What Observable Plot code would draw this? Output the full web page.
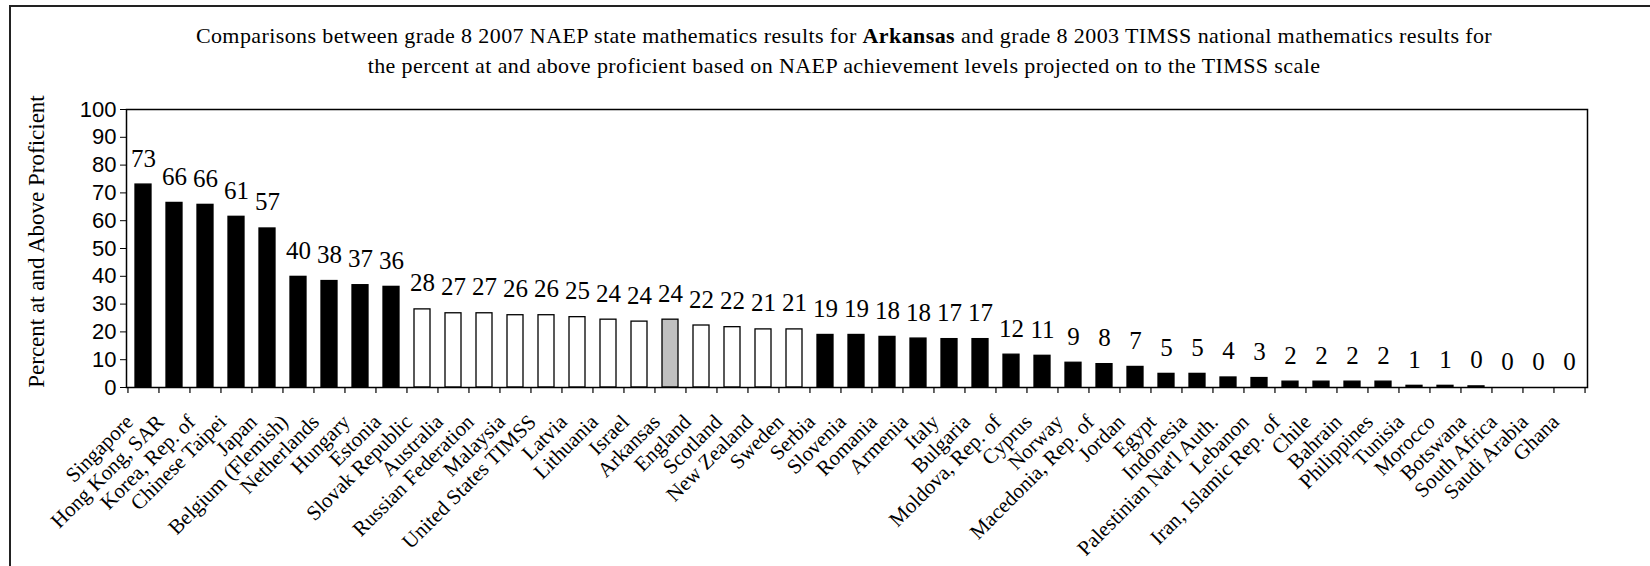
<!DOCTYPE html>
<html><head><meta charset="utf-8">
<script src="https://cdn.jsdelivr.net/npm/d3@7"></script>
<script src="https://cdn.jsdelivr.net/npm/@observablehq/plot@0.6"></script>
<style>
body{margin:0;background:#fff;width:1650px;height:566px;overflow:hidden;position:relative;font-family:"Liberation Serif","Times New Roman",serif;color:#000;}
#frame{position:absolute;left:9px;top:5px;width:1700px;height:600px;border-left:2px solid #222;border-top:2px solid #222;}
#title{position:absolute;left:38px;width:1612px;top:0;text-align:center;font-family:"Liberation Serif","Times New Roman",serif;font-size:22px;letter-spacing:0.4px;line-height:30px;padding-top:21px;}
#chart{position:absolute;left:0;top:80px;}
</style></head><body>
<div id="title">Comparisons between grade 8 2007 NAEP state mathematics results for <b>Arkansas</b> and grade 8 2003 TIMSS national mathematics results for<br>the percent at and above proficient based on NAEP achievement levels projected on to the TIMSS scale</div>
<div id="chart"></div>
<div id="frame"></div>
<script>
const countries = ["Singapore","Hong Kong, SAR","Korea, Rep. of","Chinese Taipei","Japan","Belgium (Flemish)","Netherlands","Hungary","Estonia",
  "Slovak Republic","Australia","Russian Federation","Malaysia","United States TIMSS","Latvia","Lithuania","Israel","Arkansas","England","Scotland","New Zealand","Sweden",
  "Serbia","Slovenia","Romania","Armenia","Italy","Bulgaria","Moldova, Rep. of","Cyprus","Norway","Macedonia, Rep. of","Jordan","Egypt","Indonesia","Palestinian Nat'l Auth.","Lebanon","Iran, Islamic Rep. of","Chile","Bahrain","Philippines","Tunisia","Morocco","Botswana","South Africa","Saudi Arabia","Ghana"];
const values = [73,66.4,65.7,61.4,57.2,39.8,38.3,36.8,36.2,
  28.1,26.7,26.7,26.0,26.0,25.3,24.4,23.7,24.4,22.3,21.7,20.9,20.9,
  18.9,18.9,18.2,17.6,17.4,17.4,11.8,11.4,8.9,8.4,7.4,4.9,4.9,3.6,3.4,2.1,2.1,2.1,2.1,0.6,0.6,0.4,0,0,0];
const groups = ["higher","higher","higher","higher","higher","higher","higher","higher","higher",
  "same","same","same","same","same","same","same","same","state","same","same","same","same",
  "lower","lower","lower","lower","lower","lower","lower","lower","lower","lower","lower","lower","lower","lower","lower","lower","lower","lower","lower","lower","lower","lower","lower","lower","lower"];
const groupFill = {higher:"#000000", same:"#ffffff", state:"#c0c0c0", lower:"#000000"};
const yTicks = [0,10,20,30,40,50,60,70,80,90,100];
const yTitle = "Percent at and Above Proficient";

const data = countries.map((c,i)=>({country:c, value:values[i], group:groups[i], label:d3.format(".0f")(values[i])}));
const W=1650, H=486, ml=126, mr=63, mt=29, mb=179;
const n = countries.length;
const step = (W-ml-mr)/n;
const plotH = H-mt-mb;
const serif = "Liberation Serif, Times New Roman, serif";

const chart = Plot.plot({
  width:W, height:H, marginLeft:ml, marginRight:mr, marginTop:mt, marginBottom:mb,
  style:{background:"transparent", color:"#000", fontFamily:serif},
  x:{domain:countries, paddingInner:0.48, paddingOuter:0.24},
  y:{domain:[0,100]},
  marks:[
    Plot.barY(data,{x:"country", y:"value", fill:d=>groupFill[d.group], stroke:"#000", strokeWidth:1.3}),
    Plot.text(data,{x:"country", y:"value", text:"label", dy:-26, fontSize:25, fontFamily:serif, fill:"#000"}),
    Plot.tickX(countries,{x:d=>d, dx:-step/2, insetTop:plotH, insetBottom:-6, stroke:"#000", strokeWidth:1.2}),
    Plot.tickX([countries[n-1]],{x:d=>d, dx:step/2, insetTop:plotH, insetBottom:-6, stroke:"#000", strokeWidth:1.2}),
    Plot.frame({stroke:"#000", strokeWidth:1.5}),
    Plot.axisY({ticks:yTicks, tickSize:6, tickPadding:4, fontSize:22, fontFamily:"Liberation Sans, Arial, sans-serif", label:null, stroke:"#000"}),
    Plot.axisX({tickSize:0, tickRotate:-45, tickPadding:31, dx:-14, fontSize:21, fontFamily:serif, label:null}),
    Plot.text([yTitle],{frameAnchor:"left", textAnchor:"middle", text:d=>d, rotate:-90, dx:-90, dy:-7, fontSize:23, fontFamily:serif, fill:"#000"})
  ]
});
document.getElementById("chart").appendChild(chart);
</script>
</body></html>
